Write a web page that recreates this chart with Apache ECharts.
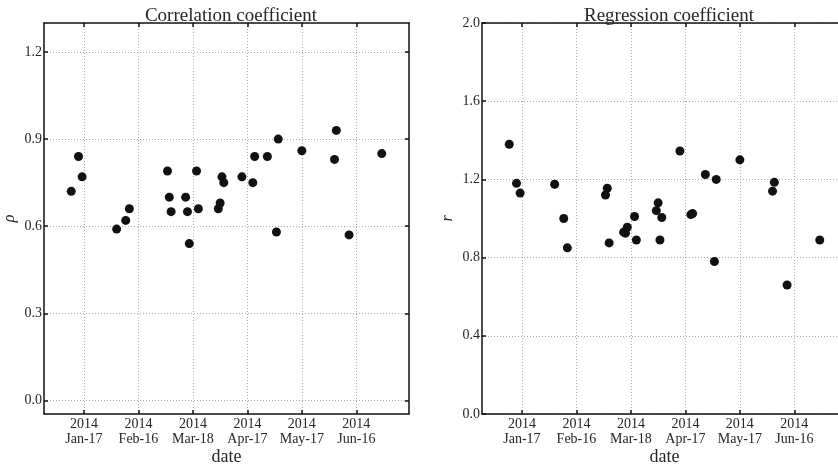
<!DOCTYPE html>
<html>
<head>
<meta charset="utf-8">
<script src="https://cdn.jsdelivr.net/npm/echarts@6/dist/echarts.min.js"></script>
<style>
  html, body { margin: 0; padding: 0; background: #fff; }
  #chart { width: 838px; height: 464px; }
</style>
</head>
<body>
<div id="chart"></div>
<script>
// observation dates (shared by both panels)
const dates = [
  '2014-01-10', '2014-01-14', '2014-01-16', '2014-02-04', '2014-02-09', '2014-02-11',
  '2014-03-04', '2014-03-05', '2014-03-06', '2014-03-14', '2014-03-15', '2014-03-16',
  '2014-03-20', '2014-03-21', '2014-04-01', '2014-04-02', '2014-04-03', '2014-04-04',
  '2014-04-14', '2014-04-20', '2014-04-21', '2014-04-28', '2014-05-03', '2014-05-04',
  '2014-05-17', '2014-06-04', '2014-06-05', '2014-06-12', '2014-06-30'
];
// correlation coefficient rho
const rho = [
  0.72, 0.84, 0.77, 0.59, 0.62, 0.66,
  0.79, 0.70, 0.65, 0.70, 0.65, 0.54,
  0.79, 0.66, 0.66, 0.68, 0.77, 0.75,
  0.77, 0.75, 0.84, 0.84, 0.58, 0.90,
  0.86, 0.83, 0.93, 0.57, 0.85
];
// regression coefficient r
const regr = [
  1.38, 1.18, 1.13, 1.175, 1.00, 0.85,
  1.12, 1.155, 0.875, 0.93, 0.925, 0.955,
  1.01, 0.89, 1.04, 1.08, 0.89, 1.005,
  1.345, 1.02, 1.025, 1.225, 0.78, 1.20,
  1.30, 1.14, 1.185, 0.66, 0.89
];
const tickDates = ['2014-01-17', '2014-02-16', '2014-03-18', '2014-04-17', '2014-05-17', '2014-06-16'];
const tickLabels = ['2014\nJan-17', '2014\nFeb-16', '2014\nMar-18', '2014\nApr-17', '2014\nMay-17', '2014\nJun-16'];
const rhoTicks = [0, 0.3, 0.6, 0.9, 1.2];
const regrTicks = [0, 0.4, 0.8, 1.2, 1.6, 2.0];

const FONT = 'Liberation Serif';
const TXT = '#262626';
const dayNum = d => Date.parse(d + 'T00:00:00Z') / 86400000;
const xMin = dayNum('2013-12-26');
const xMax = dayNum('2014-07-15');
const xTicks = tickDates.map(dayNum);

const grid = i => ({left: i ? 482 : 44, top: 23, width: 365, height: 391, outerBoundsMode: 'none'});
const dotted = {show: true, lineStyle: {color: '#aaa', type: [1, 2], width: 1}};
const axisLine = {show: true, onZero: false, lineStyle: {color: '#111', width: 1.5}};
const tick = {show: true, inside: true, length: 4, lineStyle: {color: '#111', width: 1.5}};

function xAxes(i) {
  return [{
    type: 'value', gridIndex: i, min: xMin, max: xMax,
    name: 'date', nameLocation: 'middle', nameGap: 34, nameMoveOverlap: false,
    nameTextStyle: {fontFamily: FONT, fontSize: 18, color: TXT},
    axisLine: axisLine,
    axisTick: Object.assign({customValues: xTicks}, tick),
    axisLabel: {
      customValues: xTicks, fontFamily: FONT, fontSize: 14, color: TXT,
      lineHeight: 15, margin: 3,
      formatter: v => tickLabels[xTicks.indexOf(v)] || ''
    },
    splitLine: dotted
  }, {
    type: 'value', gridIndex: i, min: xMin, max: xMax, position: 'top',
    axisLine: axisLine,
    axisTick: Object.assign({customValues: xTicks}, tick),
    axisLabel: {show: false},
    splitLine: {show: false}
  }];
}

function yAxes(i, min, max, ticks, name) {
  return [{
    type: 'value', gridIndex: i, min: min, max: max,
    name: name, nameLocation: 'middle', nameGap: 26, nameMoveOverlap: false,
    nameTextStyle: {fontFamily: FONT, fontSize: 16, fontStyle: 'italic', color: TXT},
    axisLine: axisLine,
    axisTick: Object.assign({customValues: ticks}, tick),
    axisLabel: {
      customValues: ticks, fontFamily: FONT, fontSize: 14, color: TXT, margin: 2,
      formatter: v => v.toFixed(1)
    },
    splitLine: dotted
  }, {
    type: 'value', gridIndex: i, min: min, max: max, position: 'right',
    axisLine: axisLine,
    axisTick: Object.assign({customValues: ticks}, tick),
    axisLabel: {show: false},
    splitLine: {show: false}
  }];
}

const chart = echarts.init(document.getElementById('chart'));
chart.setOption({
  animation: false,
  backgroundColor: '#fff',
  title: [
    {text: 'Correlation coefficient', left: 226, top: 2, textAlign: 'center',
     textStyle: {fontFamily: FONT, fontSize: 19, fontWeight: 'normal', color: TXT}},
    {text: 'Regression coefficient', left: 664, top: 2, textAlign: 'center',
     textStyle: {fontFamily: FONT, fontSize: 19, fontWeight: 'normal', color: TXT}}
  ],
  grid: [grid(0), grid(1)],
  xAxis: xAxes(0).concat(xAxes(1)),
  yAxis: yAxes(0, -0.047, 1.3, rhoTicks, 'ρ').concat(yAxes(1, 0, 2.0, regrTicks, 'r')),
  series: [{
    type: 'scatter', xAxisIndex: 0, yAxisIndex: 0, symbolSize: 9,
    itemStyle: {color: '#111', opacity: 1},
    data: dates.map((d, k) => [dayNum(d), rho[k]])
  }, {
    type: 'scatter', xAxisIndex: 2, yAxisIndex: 2, symbolSize: 9,
    itemStyle: {color: '#111', opacity: 1},
    data: dates.map((d, k) => [dayNum(d), regr[k]])
  }]
});
</script>
</body>
</html>
